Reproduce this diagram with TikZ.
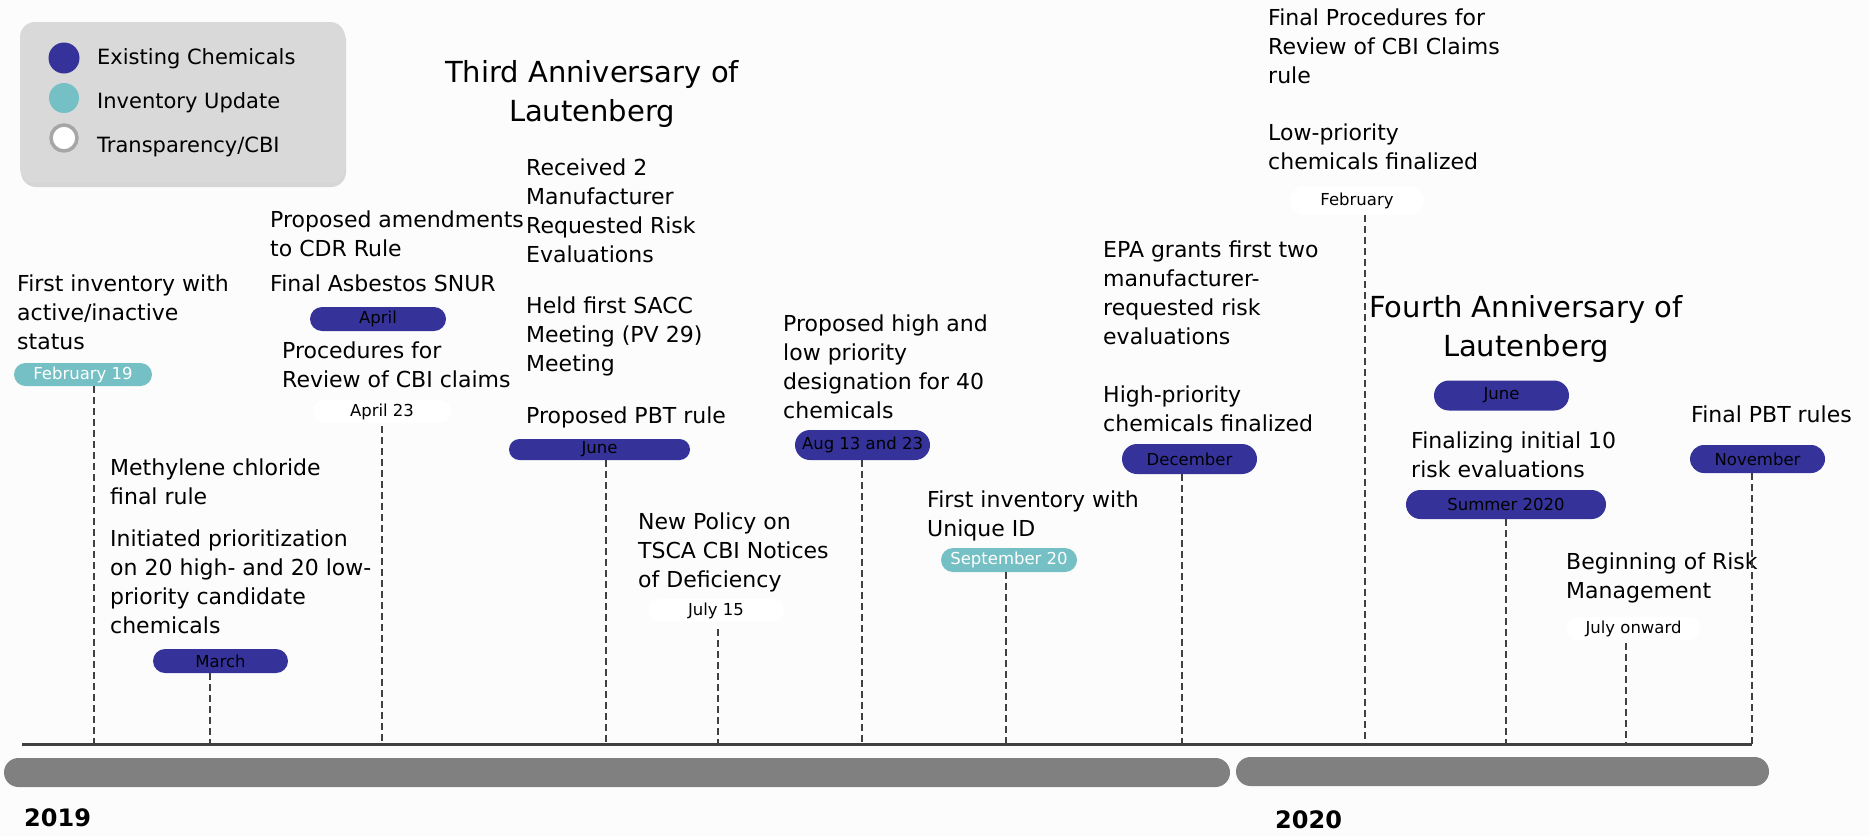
\documentclass[tikz,border=0pt]{standalone}
\usepackage{fontspec}
\setmainfont{DejaVu Sans}
\usetikzlibrary{shapes.misc,shadows}
\definecolor{bgcol}{HTML}{FCFCFC}
\definecolor{eblue}{HTML}{35339A}
\definecolor{eteal}{HTML}{74C0C4}
\definecolor{bargray}{HTML}{808080}
\definecolor{axisgray}{HTML}{404040}
\definecolor{legendgray}{HTML}{D9D9D9}
\definecolor{ringgray}{HTML}{A6A6A6}
\newcommand\txtfont{\fontsize{22}{29}\selectfont}
\newcommand\legfont{\fontsize{21}{29}\selectfont}
\newcommand\ttlfont{\fontsize{29}{39}\selectfont}
\newcommand\pillfont{\fontsize{16.5}{18}\selectfont}
\newcommand\yearfont{\fontsize{24}{28}\selectfont\bfseries}
\tikzset{
  txt/.style={anchor=base west, inner sep=0pt, align=left, font=\txtfont},
  ttl/.style={anchor=base, inner sep=0pt, align=center, font=\ttlfont},
  pill/.style={rounded rectangle, inner sep=0pt, font=\pillfont},
  pillblue/.style={pill, fill=eblue, text=black},
  pillteal/.style={pill, fill=eteal, text=white},
  pillwhite/.style={pill, fill=white, text=black},
  tickline/.style={draw=axisgray, line width=2.2pt, dash pattern=on 7pt off 4pt},
  yearlbl/.style={anchor=base west, inner sep=0pt, font=\yearfont},
  legdot/.style={circle, inner sep=0pt},
}
\begin{document}
\begin{tikzpicture}[x=1pt,y=-1pt]
\fill[bgcol] (0,0) rectangle (1870,836);
\useasboundingbox (0,0) rectangle (1870,836);

% legend
\node[fill=legendgray, rounded corners=15pt, minimum width=325pt, minimum height=161pt, inner sep=0pt,
      drop shadow={shadow xshift=1pt, shadow yshift=-4pt, opacity=0.3}] (legend) at (182.5,102.5) {};
\node[legdot, fill=eblue, minimum size=31pt] (c1) at (64,58) {};
\node[legdot, fill=eteal, minimum size=30pt] (c2) at (64,98) {};
\node[legdot, fill=white, draw=ringgray, line width=3.5pt, minimum size=26pt] (c3) at (64,138) {};
\node[txt, font=\legfont] (l1) at (97,64) {Existing Chemicals};
\node[txt, font=\legfont] (l2) at (97,108) {Inventory Update};
\node[txt, font=\legfont] (l3) at (97,152) {Transparency/CBI};

% titles (anchor = baseline of last line)
\node[ttl] (third) at (592,121) {Third Anniversary of\\Lautenberg};
\node[ttl] (fourth) at (1526,356) {Fourth Anniversary of\\Lautenberg};

% bars and axis
\fill[bargray, rounded corners=14.5pt] (4,758) rectangle (1230,787);
\fill[bargray, rounded corners=14.5pt] (1236,757) rectangle (1769,786);
\coordinate (axL) at (22,744);
\coordinate (axR) at (1752,744);
\draw[axisgray, line width=3pt] (axL) -- (axR);
\node[yearlbl] (y19) at (24,826) {2019};
\node[yearlbl] (y20) at (1275,828) {2020};

% axis points
\coordinate (a1) at (94,744);
\coordinate (a2) at (210,744);
\coordinate (a4) at (382,744);
\coordinate (a5) at (606,744);
\coordinate (a6) at (718,744);
\coordinate (a7) at (862,744);
\coordinate (a8) at (1006,744);
\coordinate (a9) at (1182,744);
\coordinate (a10) at (1365,744);
\coordinate (a12) at (1506,744);
\coordinate (a13) at (1626,744);
\coordinate (a14) at (1752,744);

% texts (anchor = baseline of last line)
\node[txt] (t1) at (17,349) {First inventory with\\active/inactive\\status};
\node[txt] (t2a) at (110,504) {Methylene chloride\\final rule};
\node[txt] (t2b) at (110,633) {Initiated prioritization\\on 20 high- and 20 low-\\priority candidate\\chemicals};
\node[txt] (t3a) at (270,256) {Proposed amendments\\to CDR Rule};
\node[txt] (t3b) at (270,291) {Final Asbestos SNUR};
\node[txt] (t4) at (282,387) {Procedures for\\Review of CBI claims};
\node[txt] (t5a) at (526,262) {Received 2\\Manufacturer\\Requested Risk\\Evaluations};
\node[txt] (t5b) at (526,371) {Held first SACC\\Meeting (PV 29)\\Meeting};
\node[txt] (t5c) at (526,423) {Proposed PBT rule};
\node[txt] (t6) at (638,587) {New Policy on\\TSCA CBI Notices\\of Deficiency};
\node[txt] (t7) at (783,418) {Proposed high and\\low priority\\designation for 40\\chemicals};
\node[txt] (t8) at (927,536) {First inventory with\\Unique ID};
\node[txt] (t9a) at (1103,344) {EPA grants first two\\manufacturer-\\requested risk\\evaluations};
\node[txt] (t9b) at (1103,431) {High-priority\\chemicals finalized};
\node[txt] (t10a) at (1268,83) {Final Procedures for\\Review of CBI Claims\\rule};
\node[txt] (t10b) at (1268,169) {Low-priority\\chemicals finalized};
\node[txt] (t12) at (1411,477) {Finalizing initial 10\\risk evaluations};
\node[txt] (t13) at (1566,598) {Beginning of Risk\\Management};
\node[txt] (t14) at (1691,422) {Final PBT rules};

% pills
\node[pillteal, minimum width=138pt, minimum height=23pt] (p1) at (83,374.5) {February 19};
\node[pillblue, minimum width=135pt, minimum height=24pt] (p2) at (220.5,661) {March};
\node[pillblue, minimum width=136pt, minimum height=24pt] (p3) at (378,319) {April};
\node[pillwhite, minimum width=138pt, minimum height=23pt] (p4) at (382,411.5) {April 23};
\node[pillblue, minimum width=181pt, minimum height=21pt] (p5) at (599.5,449.5) {June};
\node[pillwhite, minimum width=136pt, minimum height=23pt] (p6) at (716,610.5) {July 15};
\node[pillblue, minimum width=135pt, minimum height=30pt] (p7) at (862.5,445) {Aug 13 and 23};
\node[pillteal, minimum width=136pt, minimum height=24pt] (p8) at (1009,560) {September 20};
\node[pillblue, minimum width=135pt, minimum height=30pt] (p9) at (1189.5,459) {December};
\node[pillwhite, minimum width=134pt, minimum height=29pt] (p10) at (1357,200.5) {February};
\node[pillblue, minimum width=135pt, minimum height=30pt] (p11) at (1501.5,395.5) {June};
\node[pillblue, minimum width=200pt, minimum height=29pt] (p12) at (1506,504.5) {Summer 2020};
\node[pillwhite, minimum width=134pt, minimum height=23pt] (p13) at (1633.5,628.5) {July onward};
\node[pillblue, minimum width=135pt, minimum height=28pt] (p14) at (1757.5,459) {November};

% dashed connectors
\draw[tickline] (p1.south -| a1) -- (a1);
\draw[tickline] (p2.south -| a2) -- (a2);
\draw[tickline] ([yshift=-3pt]p4.south -| a4) -- (a4);
\draw[tickline] (p5.south -| a5) -- (a5);
\draw[tickline] ([yshift=-7pt]p6.south -| a6) -- (a6);
\draw[tickline] (p7.south -| a7) -- (a7);
\draw[tickline] (p8.south -| a8) -- (a8);
\draw[tickline] (p9.south -| a9) -- (a9);
\draw[tickline] (p10.south -| a10) -- (a10);
\draw[tickline] (p12.south -| a12) -- (a12);
\draw[tickline] ([yshift=-3pt]p13.south -| a13) -- (a13);
\draw[tickline] (p14.south -| a14) -- (a14);
\end{tikzpicture}
\end{document}
